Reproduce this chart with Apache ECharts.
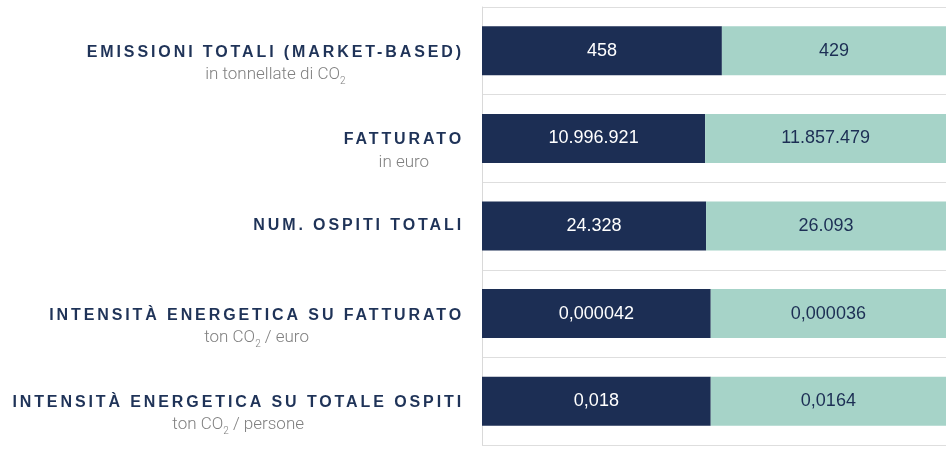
<!DOCTYPE html>
<html>
<head>
<meta charset="utf-8">
<script src="https://cdn.jsdelivr.net/npm/echarts@6/dist/echarts.min.js"></script>
<style>
  html, body { margin: 0; padding: 0; background: #fff; }
  #chart { width: 950px; height: 465px; }
</style>
</head>
<body>
<div id="chart"></div>
<script>
// zrender has no letter spacing, the wide-tracked titles get it from the 2d context
// (set together with the font, so measuring and drawing agree)
const fontProp = Object.getOwnPropertyDescriptor(CanvasRenderingContext2D.prototype, 'font');
Object.defineProperty(CanvasRenderingContext2D.prototype, 'font', {
  get() { return fontProp.get.call(this); },
  set(v) {
    fontProp.set.call(this, v);
    this.letterSpacing = / bold 16px/.test(v) ? '2.9px' : '0px';
  }
});

const categories = [
  'EMISSIONI TOTALI (MARKET-BASED)',
  'FATTURATO',
  'NUM. OSPITI TOTALI',
  'INTENSITÀ ENERGETICA SU FATTURATO',
  'INTENSITÀ ENERGETICA SU TOTALE OSPITI'
];
const units = ['in tonnellate di CO₂', 'in euro', '', 'ton CO₂ / euro', 'ton CO₂ / persone'];

// shown values
const firstLabels = ['458', '10.996.921', '24.328', '0,000042', '0,018'];
const secondLabels = ['429', '11.857.479', '26.093', '0,000036', '0,0164'];

// share of each bar (%), as drawn
const firstShare = [51.7, 48.1, 48.3, 49.3, 49.3];
const secondShare = [48.3, 51.9, 51.7, 50.7, 50.7];

const navy = '#1c2e54';
const teal = '#a6d3c8';

const unitText = (u) => '{u|' + u.split('₂').join('}{sub|2}{u|') + '}';

const chartDom = document.getElementById('chart');
const myChart = echarts.init(chartDom);

const option = {
  animation: false,
  grid: { left: 482, right: 4, top: 7, bottom: 20 },
  xAxis: { type: 'value', min: 0, max: 100, show: false },
  yAxis: {
    type: 'category',
    inverse: true,
    data: categories,
    axisLine: { show: true, lineStyle: { color: '#d9d9d9', width: 1 } },
    axisTick: { show: false },
    splitLine: { show: true, lineStyle: { color: '#dedede', width: 1 } },
    axisLabel: {
      interval: 0,
      margin: 18,
      formatter: (value, idx) => {
        const u = units[idx];
        if (!u) return '{t|' + value + '}';
        return '{p| }\n{t|' + value + '}\n' + unitText(u);
      },
      rich: {
        p: { fontSize: 16, lineHeight: 26 },
        t: {
          fontFamily: 'Liberation Sans', fontWeight: 'bold', fontSize: 16,
          color: '#1f3358', lineHeight: 22, align: 'center'
        },
        u: {
          fontFamily: 'Roboto', fontWeight: 300, fontSize: 17,
          color: '#808080', lineHeight: 23, align: 'center'
        },
        sub: {
          fontFamily: 'Roboto', fontWeight: 300, fontSize: 10,
          color: '#808080', lineHeight: 10, verticalAlign: 'bottom', align: 'center'
        }
      }
    }
  },
  series: [
    {
      type: 'bar',
      stack: 'tot',
      barWidth: 49,
      itemStyle: { color: navy },
      label: {
        show: true,
        position: 'inside',
        color: '#fff',
        fontFamily: 'Liberation Sans',
        fontSize: 18,
        formatter: (p) => firstLabels[p.dataIndex]
      },
      data: firstShare
    },
    {
      type: 'bar',
      stack: 'tot',
      barWidth: 49,
      itemStyle: { color: teal },
      label: {
        show: true,
        position: 'inside',
        color: navy,
        fontFamily: 'Liberation Sans',
        fontSize: 18,
        formatter: (p) => secondLabels[p.dataIndex]
      },
      data: secondShare
    }
  ]
};

myChart.setOption(option);
</script>
</body>
</html>
